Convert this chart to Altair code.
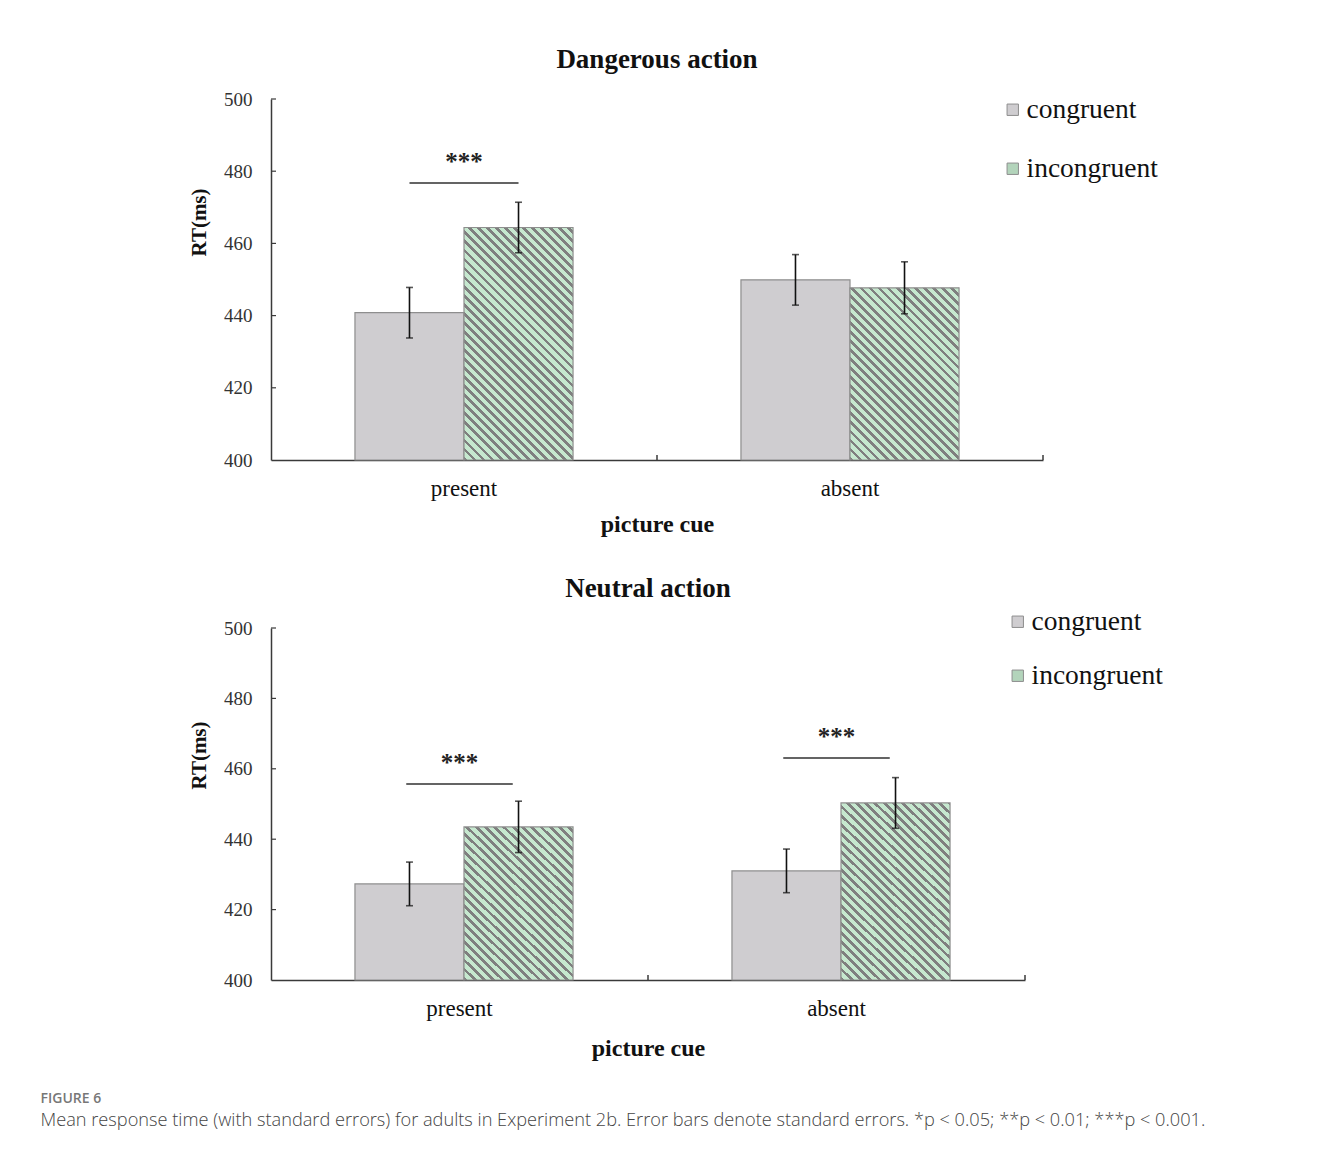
import math
import altair as alt
import pandas as pd

# ---------------- data ----------------
cues = ["present", "absent"]
conditions = ["congruent", "incongruent"]

danger_cue = ["present", "present", "absent", "absent"]
danger_cond = ["congruent", "incongruent", "congruent", "incongruent"]
danger_mean = [440.8, 464.4, 449.9, 447.7]
danger_se = [7.0, 7.0, 7.0, 7.2]
danger_sig_cue = ["present"]
danger_sig_y = [476.7]

neutral_cue = ["present", "present", "absent", "absent"]
neutral_cond = ["congruent", "incongruent", "congruent", "incongruent"]
neutral_mean = [427.3, 443.5, 431.0, 450.3]
neutral_se = [6.2, 7.3, 6.2, 7.2]
neutral_sig_cue = ["present", "absent"]
neutral_sig_y = [455.7, 463.1]

y_ticks = [400, 420, 440, 460, 480, 500]
y_min, y_max = 400, 500

# ---------------- style ----------------
SERIF = "Liberation Serif"
SANS = "Open Sans"
GRAY_FILL = "#cfcdd0"
BAR_STROKE = "#8e8e8e"
HATCH_BG = "#c6e8cf"
HATCH_LINE = "#7f7f7f"
AXIS_COLOR = "#3a3a3a"
OFFSET_PAD = 0.77


def hatch_gradient(w, h, period=6.4, dark_frac=0.42):
    """Linear gradient (bbox units) that yields 45deg '\\' stripes on a w x h bar."""
    k = (1 / h + 1 / w) / (1 / h ** 2 + 1 / w ** 2)
    x2 = k / h
    y2 = 1 - k / w
    length = (w + h) / math.sqrt(2)
    n = length / period
    stops = []
    i = 0
    while i < n + 1:
        a = min(i / n, 1.0)
        b = min((i + dark_frac) / n, 1.0)
        c = min((i + 1) / n, 1.0)
        stops += [
            {"offset": a, "color": HATCH_LINE},
            {"offset": b, "color": HATCH_LINE},
            {"offset": b, "color": HATCH_BG},
            {"offset": c, "color": HATCH_BG},
        ]
        i += 1
        if c >= 1.0:
            break
    return {"gradient": "linear", "x1": 0, "y1": 1, "x2": x2, "y2": y2, "stops": stops}


def panel(title, cue_l, cond_l, mean_l, se_l, sig_cue, sig_y, W, H,
          leg_x, leg_y, leg_row, title_y, title_offset, xtitle_pad):
    df = pd.DataFrame({"cue": cue_l, "cond": cond_l, "mean": mean_l, "se": se_l})
    df["lo"] = df["mean"] - df["se"]
    df["hi"] = df["mean"] + df["se"]
    sig = pd.DataFrame({"cue": sig_cue, "y": sig_y})

    band = W / len(cues)
    bw = band / (2 + 2 * OFFSET_PAD)

    xs = alt.X("cue:N", sort=cues, scale=alt.Scale(domain=cues, paddingInner=0, paddingOuter=0),
               axis=alt.Axis(title="picture cue", labelAngle=0, ticks=False,
                             labelFont=SERIF, labelFontSize=23, labelColor="#111",
                             labelPadding=17, titleFont=SERIF, titleFontSize=24,
                             titleFontWeight="bold", titleColor="#111", titlePadding=xtitle_pad,
                             domainColor=AXIS_COLOR, domainWidth=1.5))
    xo = alt.XOffset("cond:N", sort=conditions,
                     scale=alt.Scale(domain=conditions, paddingInner=0, paddingOuter=OFFSET_PAD))
    ys = alt.Y("mean:Q", scale=alt.Scale(domain=[y_min, y_max], zero=False, nice=False),
               axis=alt.Axis(title="RT(ms)", values=y_ticks, ticks=False, grid=False,
                             labelFont=SERIF, labelFontSize=19, labelColor="#333",
                             labelPadding=19, titleFont=SERIF, titleFontSize=21,
                             titleFontWeight="bold", titleColor="#111", titlePadding=14,
                             titleY=title_y,
                             domainColor=AXIS_COLOR, domainWidth=1.5))

    base = alt.Chart(df)

    cong = base.transform_filter(alt.datum.cond == "congruent").mark_bar(
        stroke=BAR_STROKE, strokeWidth=1.2
    ).encode(
        x=xs, xOffset=xo, y=ys, y2=alt.datum(y_min),
        fill=alt.Fill("cond:N", scale=alt.Scale(domain=conditions, range=[GRAY_FILL, "#b3d4bb"]),
                      legend=alt.Legend(title=None, orient="none", legendX=leg_x, legendY=leg_y,
                                        symbolType="square", symbolSize=130,
                                        symbolStrokeColor=BAR_STROKE, symbolStrokeWidth=1,
                                        labelFont=SERIF, labelFontSize=27.5, labelColor="#111",
                                        labelOffset=0, rowPadding=leg_row, labelLimit=300)),
    )

    layers = [cong]
    for c, c_cond, m in zip(cue_l, cond_l, mean_l):
        if c_cond != "incongruent":
            continue
        h = (m - y_min) / (y_max - y_min) * H
        grad = hatch_gradient(bw, h)
        lay = base.transform_filter(
            (alt.datum.cond == "incongruent") & (alt.datum.cue == c)
        ).mark_bar(fill=grad, stroke=BAR_STROKE, strokeWidth=1.2).encode(
            x=alt.X("cue:N", sort=cues), xOffset=alt.XOffset("cond:N", sort=conditions),
            y=alt.Y("mean:Q"), y2=alt.datum(y_min),
        )
        layers.append(lay)

    err = base.mark_rule(color="#111", strokeWidth=1.6).encode(
        x=alt.X("cue:N", sort=cues), xOffset=alt.XOffset("cond:N", sort=conditions),
        y=alt.Y("lo:Q"), y2="hi:Q",
    )
    caps = base.transform_fold(["lo", "hi"], as_=["end", "val"]).mark_tick(
        color="#111", size=7, thickness=1.6, orient="horizontal"
    ).encode(
        x=alt.X("cue:N", sort=cues), xOffset=alt.XOffset("cond:N", sort=conditions),
        y=alt.Y("val:Q"),
    )
    sig_line = alt.Chart(sig).mark_tick(color="#222", size=bw, thickness=2, orient="horizontal").encode(
        x=alt.X("cue:N", sort=cues), y=alt.Y("y:Q"),
    )
    sig_txt = alt.Chart(sig).mark_text(text="***", font=SERIF, fontSize=25, fontWeight="bold",
                                       color="#222", dy=-21).encode(
        x=alt.X("cue:N", sort=cues), y=alt.Y("y:Q"),
    )
    xt = alt.Chart(pd.DataFrame({"cue": cues})).mark_rule(color=AXIS_COLOR, strokeWidth=1.5).encode(
        x=alt.X("cue:N", sort=cues, bandPosition=1),
        y=alt.value(H), y2=alt.value(H - 5),
    )
    yt = alt.Chart(pd.DataFrame({"t": y_ticks[1:]})).mark_rule(color=AXIS_COLOR, strokeWidth=1.2).encode(
        y=alt.Y("t:Q"), x=alt.value(0), x2=alt.value(5),
    )

    layers += [err, caps, sig_line, sig_txt, xt, yt]
    return alt.layer(*layers).properties(
        width=W, height=H,
        view=alt.ViewBackground(stroke="transparent", strokeWidth=0),
        title=alt.TitleParams(title, font=SERIF, fontSize=27, fontWeight="bold", color="#111",
                              anchor="middle", offset=title_offset),
    )


top = panel("Dangerous action", danger_cue, danger_cond, danger_mean, danger_se,
            danger_sig_cue, danger_sig_y, 772, 361, 728, -3, 30, 123, 16, 12)
bottom = panel("Neutral action", neutral_cue, neutral_cond, neutral_mean, neutral_se,
               neutral_sig_cue, neutral_sig_y, 754, 352, 733, -20, 25, 127, 5, 16)

caption = ("Mean response time (with standard errors) for adults in Experiment 2b. "
           "Error bars denote standard errors. *p < 0.05; **p < 0.01; ***p < 0.001.")

chart = alt.vconcat(top, bottom, spacing=39).resolve_legend(fill="independent").properties(
    padding={"left": 32, "top": 38, "right": 20, "bottom": 20},
    title=alt.TitleParams("FIGURE 6", subtitle=caption, orient="bottom", anchor="start",
                          dx=-148, offset=32, font=SANS, fontSize=14, fontWeight=600,
                          color="#777", subtitleFont=SANS, subtitleFontSize=18.2,
                          subtitleFontWeight=300,
                          subtitleColor="#444", subtitlePadding=6),
).configure_view(strokeWidth=0, stroke="transparent").configure(background="white")

chart.save("out.html", embed_options={"renderer": "svg", "actions": False})
